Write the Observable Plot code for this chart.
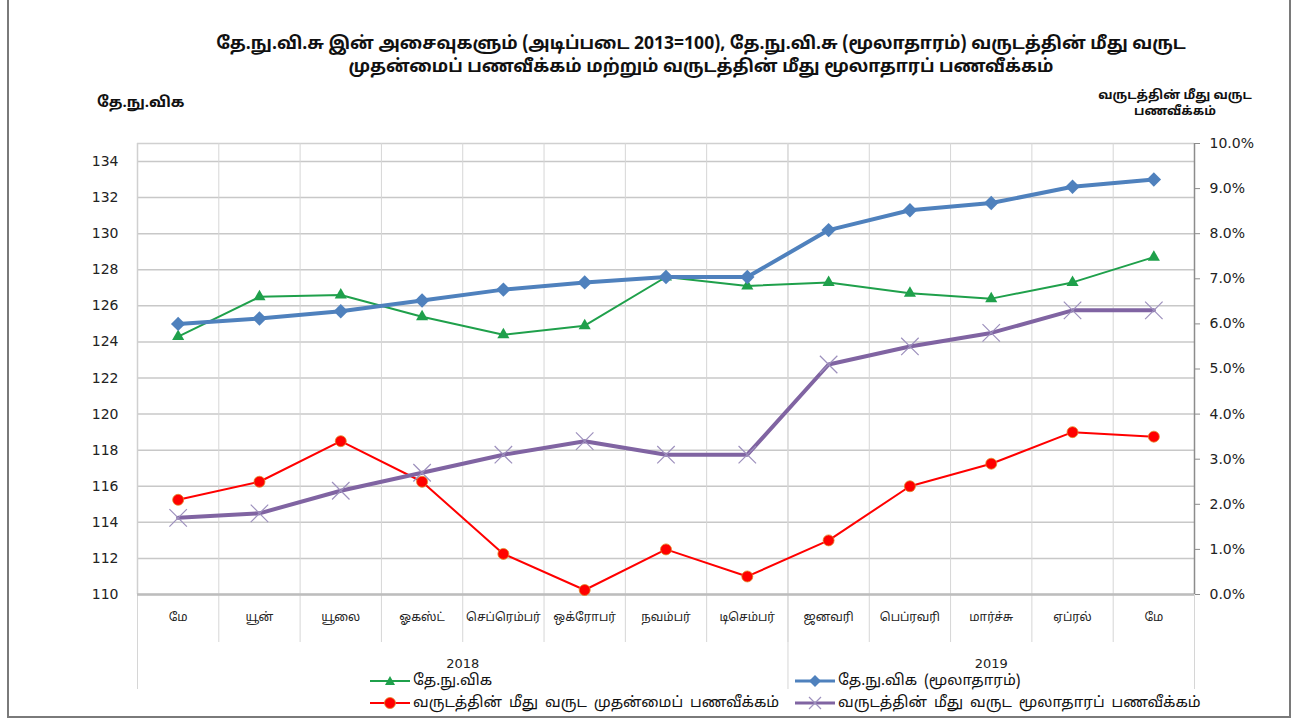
<!DOCTYPE html>
<html>
<head>
<meta charset="utf-8">
<script src="https://cdn.jsdelivr.net/npm/d3@7"></script>
<script src="https://cdn.jsdelivr.net/npm/@observablehq/plot@0.6"></script>
<style>
  html, body { margin: 0; padding: 0; background: #fff; }
  #wrap { position: relative; width: 1305px; height: 719px; overflow: hidden; font-family: "Noto Sans Tamil", "Lohit Tamil", "DejaVu Sans", sans-serif; }
  #frame { position: absolute; left: 7px; top: -3px; width: 1284px; height: 721px; border: 2px solid #7a7a7a; box-sizing: border-box; pointer-events: none; }
  #chart { position: absolute; left: 0; top: 0; }
  .title { position: absolute; left: 101px; width: 1200px; text-align: center; font-size: 17.5px; font-weight: bold; color: #111; line-height: 23px; white-space: nowrap; }
  .lab { position: absolute; font-size: 13px; font-weight: bold; color: #111; white-space: nowrap; }
  .leg { position: absolute; font-size: 15px; word-spacing: 3px; color: #111; display: flex; align-items: center; white-space: nowrap; }
  .leg svg { margin-right: 3px; }
</style>
</head>
<body>
<div id="wrap">
  <div class="title" style="top:33px">தே.நு.வி.சு இன் அசைவுகளும் (அடிப்படை 2013=100), தே.நு.வி.சு (மூலாதாரம்) வருடத்தின் மீது வருட<br>முதன்மைப் பணவீக்கம் மற்றும் வருடத்தின் மீது மூலாதாரப் பணவீக்கம்</div>
  <div class="lab" style="left:97px; top:94px; font-size:15px;">தே.நு.விக</div>
  <div class="lab" style="left:1090px; top:88px; width:170px; text-align:center; font-size:12.5px; line-height:16px;">வருடத்தின் மீது வருட<br>பணவீக்கம்</div>
  <div id="chart"></div>
  <div id="legend"></div>
  <div id="frame"></div>
</div>
<script>
// ---- data ----
const months = ["மே", "யூன்", "யூலை", "ஓகஸ்ட்", "செப்ரெம்பர்", "ஒக்ரோபர்", "நவம்பர்", "டிசெம்பர்", "ஜனவரி", "பெப்ரவரி", "மார்ச்சு", "ஏப்ரல்", "மே"];
const years = ["2018", "2019"];
const yearSpans = [[0, 7], [8, 12]];  // month index ranges per year
const cpi      = [124.3, 126.5, 126.6, 125.4, 124.4, 124.9, 127.6, 127.1, 127.3, 126.7, 126.4, 127.3, 128.7];
const coreCpi  = [125.0, 125.3, 125.7, 126.3, 126.9, 127.3, 127.6, 127.6, 130.2, 131.3, 131.7, 132.6, 133.0];
const headline = [2.1, 2.5, 3.4, 2.5, 0.9, 0.1, 1.0, 0.4, 1.2, 2.4, 2.9, 3.6, 3.5];   // % y-o-y
const coreInfl = [1.7, 1.8, 2.3, 2.7, 3.1, 3.4, 3.1, 3.1, 5.1, 5.5, 5.8, 6.3, 6.3];   // % y-o-y
const leftTicks = [110, 112, 114, 116, 118, 120, 122, 124, 126, 128, 130, 132, 134];
const rightTicks = [0, 1, 2, 3, 4, 5, 6, 7, 8, 9, 10];  // percent
const seriesNames = ["தே.நு.விக", "தே.நு.விக (மூலாதாரம்)", "வருடத்தின் மீது வருட முதன்மைப் பணவீக்கம்", "வருடத்தின் மீது வருட மூலாதாரப் பணவீக்கம்"];

// left domain and right (percent) domain share the same plotting area
const leftDomain = [110, 135];
const rightDomain = [0, 10];
const toLeft = p => leftDomain[0] + (p - rightDomain[0]) * (leftDomain[1] - leftDomain[0]) / (rightDomain[1] - rightDomain[0]);

const idx = d3.range(months.length);
const rows = (arr, conv = v => v) => arr.map((v, i) => ({i, v: conv(v)}));
const cpiRows = rows(cpi), coreRows = rows(coreCpi), headRows = rows(headline, toLeft), coreInflRows = rows(coreInfl, toLeft);
const boundaries = d3.range(months.length + 1).map(i => i - 0.5);
const yearBounds = [yearSpans[0][0] - 0.5, ...yearSpans.map(s => s[1] + 0.5)];
const yearRows = years.map((y, k) => ({y, x: (yearSpans[k][0] + yearSpans[k][1]) / 2}));

const colors = {cpi: "#1fa04b", core: "#4f81bd", head: "#ff0000", coreInfl: "#8064a2"};
const tickFont = "DejaVu Sans, sans-serif";
const tamilFont = "Noto Sans Tamil, Lohit Tamil, DejaVu Sans, sans-serif";

const chart = Plot.plot({
  width: 1305,
  height: 719,
  marginLeft: 137,
  marginRight: 111,
  marginTop: 143,
  marginBottom: 125,
  style: {fontFamily: tickFont, color: "#222", background: "transparent"},
  x: {type: "linear", domain: [-0.5, months.length - 0.5], axis: null},
  y: {domain: leftDomain, axis: null},
  marks: [
    Plot.ruleY(leftTicks, {stroke: "#c8c8c8", strokeWidth: 1.5}),
    Plot.ruleY([leftDomain[1]], {stroke: "#d0d0d0", strokeWidth: 1.5}),
    Plot.ruleX(boundaries, {stroke: "#d6d6d6", strokeWidth: 1, insetBottom: -48}),
    Plot.ruleX(yearBounds, {stroke: "#d6d6d6", strokeWidth: 1, insetBottom: -95}),
    Plot.ruleX([boundaries[0]], {stroke: "#d0d0d0", strokeWidth: 1.5}),
    Plot.ruleY([leftDomain[0]], {stroke: "#bdbdbd", strokeWidth: 2.5}),
    Plot.ruleX([boundaries[boundaries.length - 1]], {stroke: "#8c8c8c", strokeWidth: 1.5}),
    Plot.axisY({anchor: "left", label: null, ticks: leftTicks, tickSize: 0, tickPadding: 19, fontSize: 14, tickFormat: d => d}),
    Plot.axisY({anchor: "right", label: null, ticks: rightTicks.map(toLeft), tickSize: 5, tickPadding: 10, fontSize: 14,
      tickFormat: (d, k) => rightTicks[k].toFixed(1) + "%", stroke: "#8c8c8c"}),
    Plot.axisX({label: null, ticks: idx, tickFormat: i => months[i], tickSize: 0, tickPadding: 18, fontSize: 12, fontFamily: tamilFont}),
    Plot.text(yearRows, {x: "x", text: "y", frameAnchor: "bottom", dy: 73, fontSize: 13, fontWeight: "normal", fill: "#222"}),
    // series
    Plot.line(cpiRows, {x: "i", y: "v", stroke: colors.cpi, strokeWidth: 2}),
    Plot.dot(cpiRows, {x: "i", y: "v", symbol: "triangle", r: 4.5, fill: colors.cpi}),
    Plot.line(coreRows, {x: "i", y: "v", stroke: colors.core, strokeWidth: 4}),
    Plot.dot(coreRows, {x: "i", y: "v", symbol: "diamond2", r: 6.5, fill: colors.core}),
    Plot.line(headRows, {x: "i", y: "v", stroke: colors.head, strokeWidth: 2}),
    Plot.dot(headRows, {x: "i", y: "v", symbol: "circle", r: 5.5, fill: colors.head, stroke: "#e08a2a", strokeWidth: 0.8}),
    Plot.line(coreInflRows, {x: "i", y: "v", stroke: colors.coreInfl, strokeWidth: 4}),
    Plot.dot(coreInflRows, {x: "i", y: "v", symbol: "times", r: 8, stroke: "#9d90bd", strokeWidth: 1.2})
  ]
});
document.getElementById("chart").appendChild(chart);

// legend
const legItems = [
  {name: seriesNames[0], color: colors.cpi, sym: "tri", w: 2, left: 370, top: 671},
  {name: seriesNames[1], color: colors.core, sym: "dia", w: 3, left: 795, top: 671},
  {name: seriesNames[2], color: colors.head, sym: "cir", w: 2, left: 370, top: 693},
  {name: seriesNames[3], color: colors.coreInfl, sym: "x", w: 3, left: 795, top: 693}
];
const leg = document.getElementById("legend");
for (const it of legItems) {
  let sym = "";
  if (it.sym === "tri") sym = `<path d="M20,5 L25,14 L15,14 Z" fill="${it.color}"/>`;
  if (it.sym === "dia") sym = `<path d="M20,4 L26,10 L20,16 L14,10 Z" fill="${it.color}"/>`;
  if (it.sym === "cir") sym = `<circle cx="20" cy="10" r="5.5" fill="${it.color}" stroke="#e08a2a" stroke-width="0.8"/>`;
  if (it.sym === "x") sym = `<path d="M14,4 L26,16 M26,4 L14,16" stroke="#9d90bd" stroke-width="1.2"/>`;
  const div = document.createElement("div");
  div.className = "leg";
  div.style.left = it.left + "px";
  div.style.top = it.top + "px";
  div.innerHTML = `<svg width="40" height="20"><line x1="0" x2="40" y1="10" y2="10" stroke="${it.color}" stroke-width="${it.w}"/>${sym}</svg><span>${it.name}</span>`;
  leg.appendChild(div);
}
</script>
</body>
</html>
